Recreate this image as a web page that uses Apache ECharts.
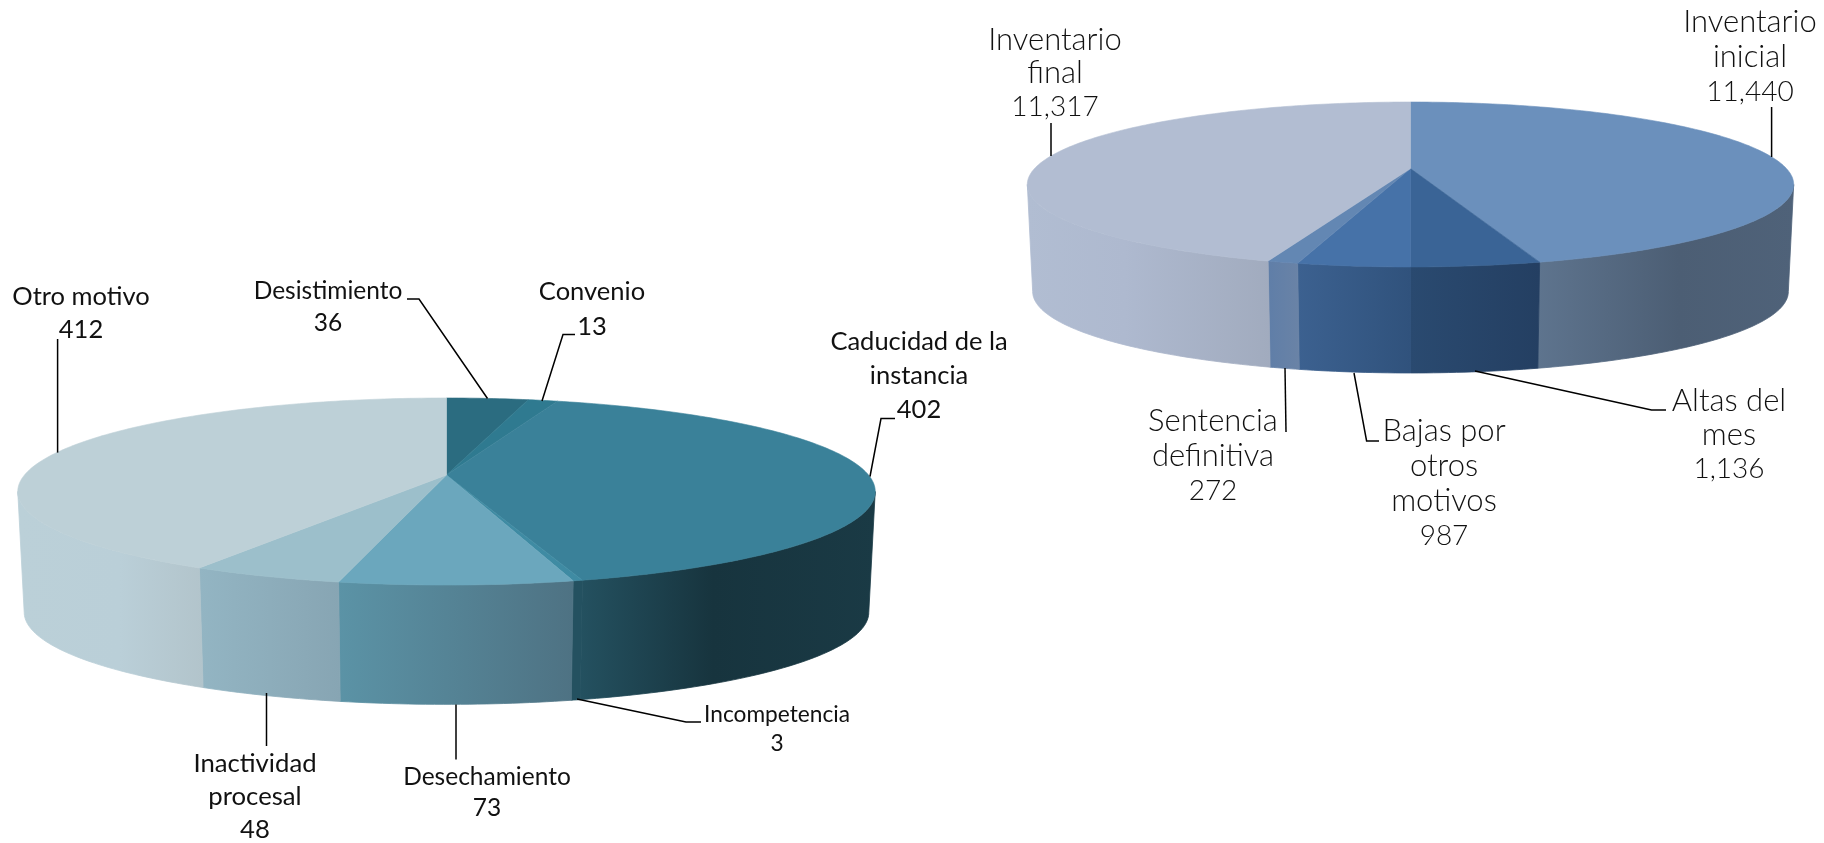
<!DOCTYPE html>
<html><head><meta charset="utf-8">
<style>html,body{margin:0;padding:0;background:#fff}#c{width:1824px;height:843px}</style>
<script src="https://cdn.jsdelivr.net/npm/echarts@6/dist/echarts.min.js"></script>
</head><body><div id="c"></div>
<script>
// ---- data ----
const motivoNames = ['Desistimiento','Convenio','Caducidad de la\ninstancia','Incompetencia','Desechamiento','Inactividad\nprocesal','Otro motivo'];
const motivoValues = [36,13,402,3,73,48,412];
const inventarioNames = ['Inventario\ninicial','Altas del\nmes','Bajas por\notros\nmotivos','Sentencia\ndefinitiva','Inventario\nfinal'];
const inventarioValues = [11440,1136,987,272,11317];

// ---- styles ----
const motivoTop = ['#2b6c80','#2f7a90','#3a8199','#3f8ba3','#6ba7bd','#9cbfcb','#bdd0d7'];
const motivoSide = [['#1d4452','#1d4452'],['#1d4452','#1d4452'],[[0,'#245160'],[0.45,'#17343e'],[1,'#1a3a45']],['#245160','#245160'],['#5b93a6','#4e7283'],['#93b5c3','#87a5b3'],[[0,'#bbd0d8'],[0.55,'#bacfd8'],[1,'#b2c4cb']]];
const inventarioTop = ['#6b90bc','#3a6496','#4672a8','#6387b3','#b2bdd2'];
const inventarioSide = [[[0,'#5e748e'],[0.55,'#4c5e74'],[1,'#4f6279']],['#2a4a70','#243f62'],['#3c6190','#30527c'],['#5f7ea8','#6a83a6'],[[0,'#b1bdd2'],[0.4,'#aeb9cf'],[1,'#a1abbe']]];

const motivoPie = {cx:446.5, cy:475, a:422, b:90.6, k:0.1765, drop:121, shrink:0.985};
const inventarioPie = {cx:1410.5, cy:168.6, a:376, b:79.4, k:0.1927, drop:107.4, shrink:0.986};

function fmt(v){return v.toLocaleString('en-US');}

function stopsOf(c){
  return typeof c[0]==='string' ? [{offset:0,color:c[0]},{offset:1,color:c[1]}] : c.map(p=>({offset:p[0],color:p[1]}));
}

function pieSeries(values, geo, tops, sides, part){
  const total = values.reduce((s,v)=>s+v,0);
  let run = 0;
  const spans = values.map(v=>{const s=run; run+=v; return [s/total*360, run/total*360];});
  // the rim's vertical tangent sits where depth equals k
  const lo = Math.acos(-geo.k)*180/Math.PI, hi = 360-lo;
  function pt(deg, bottom){
    const t = deg*Math.PI/180, X = Math.sin(t), Z = -Math.cos(t), w = 1-geo.k*Z;
    const x = geo.a*X/w, y = geo.b*Z/w;
    return bottom ? [geo.cx+geo.shrink*x, geo.cy+geo.drop+geo.shrink*y] : [geo.cx+x, geo.cy+y];
  }
  function sweep(a,b){
    const count = Math.max(8,Math.ceil(b-a)), out = [];
    for(let n=0;n<=count;n++) out.push(a+n*(b-a)/count);
    return out;
  }
  return {
    type:'custom', coordinateSystem:'none', silent:true, animation:false, z: part==='side'?1:2,
    data: values,
    renderItem(params){
      const i = params.dataIndex, [s,e] = spans[i];
      if(part==='side'){
        const a = Math.max(s,lo), b = Math.min(e,hi);
        if(b<=a) return {type:'group',children:[]};
        const angles = sweep(a,b);
        const pts = angles.map(d=>pt(d,false)).concat(angles.slice().reverse().map(d=>pt(d,true)));
        const fill = new echarts.graphic.LinearGradient(0,0,1,0,stopsOf(sides[i]));
        return {type:'polygon',shape:{points:pts},style:{fill:fill,stroke:fill,lineWidth:0.8}};
      }
      const tp = [[geo.cx,geo.cy]].concat(sweep(s,e).map(d=>pt(d,false)));
      return {type:'polygon',shape:{points:tp},style:{fill:tops[i],stroke:tops[i],lineWidth:0.6}};
    }
  };
}

// leader lines and label places
const leaders = [
 [[57.6,452.6],[57.6,339]],
 [[487.5,398.5],[419,299],[407,299]],
 [[542,401],[563,334.5],[575,334.5]],
 [[870,476.5],[881,418.5],[895,418.5]],
 [[577,699],[686,722],[701,722]],
 [[456,704.5],[456,759.5]],
 [[266.5,693],[266.5,746]],
 [[1051,156],[1051,123]],
 [[1771.6,157],[1771.6,107]],
 [[1475,371],[1651.5,410],[1666,410]],
 [[1354,373],[1366.6,441],[1379,441]],
 [[1285,368],[1286,432]]
];
const motivoPlaces = [[328,291,24.5,32],[592,292,25.5,35],[919,342,25.5,34],[777,715,22.7,29],[487,777,24.5,31],[255,764,25.7,33],[81,297,25.5,33]];
const inventarioPlaces = [[1750,22,31,35],[1729,401,31,34],[1444,431,31,35],[1213,421,31,35],[1055,39.5,31,33.5]];

function labels(names, values, places, weight, valueSize){
  return names.map((n,i)=>{
    const [x,y,size,lh] = places[i];
    const base = {fontFamily:'Lato',fontWeight:weight,lineHeight:lh,fill:'#111',align:'center'};
    const nameText = n.split('\n').map(l=>'{n|'+l+'}').join('\n');
    return {type:'text',x:x,y:y-lh/2,silent:true,
      style:{text:nameText+'\n{v|'+fmt(values[i])+'}',align:'center',verticalAlign:'top',fontFamily:'Lato',
        rich:{n:Object.assign({},base,{fontSize:size}),v:Object.assign({},base,{fontSize:valueSize||size})}}};
  });
}

const chart = echarts.init(document.getElementById('c'));
chart.setOption({
  backgroundColor:'#ffffff', animation:false,
  series:[
    pieSeries(motivoValues,motivoPie,motivoTop,motivoSide,'side'),
    pieSeries(motivoValues,motivoPie,motivoTop,motivoSide,'top'),
    pieSeries(inventarioValues,inventarioPie,inventarioTop,inventarioSide,'side'),
    pieSeries(inventarioValues,inventarioPie,inventarioTop,inventarioSide,'top')
  ],
  graphic:{elements:[
    ...leaders.map(p=>({type:'polyline',silent:true,z:10,shape:{points:p},style:{stroke:'#000',lineWidth:1.5,fill:null}})),
    ...labels(motivoNames,motivoValues,motivoPlaces,400),
    ...labels(inventarioNames,inventarioValues,inventarioPlaces,300,28)
  ]}
});
</script></body></html>
